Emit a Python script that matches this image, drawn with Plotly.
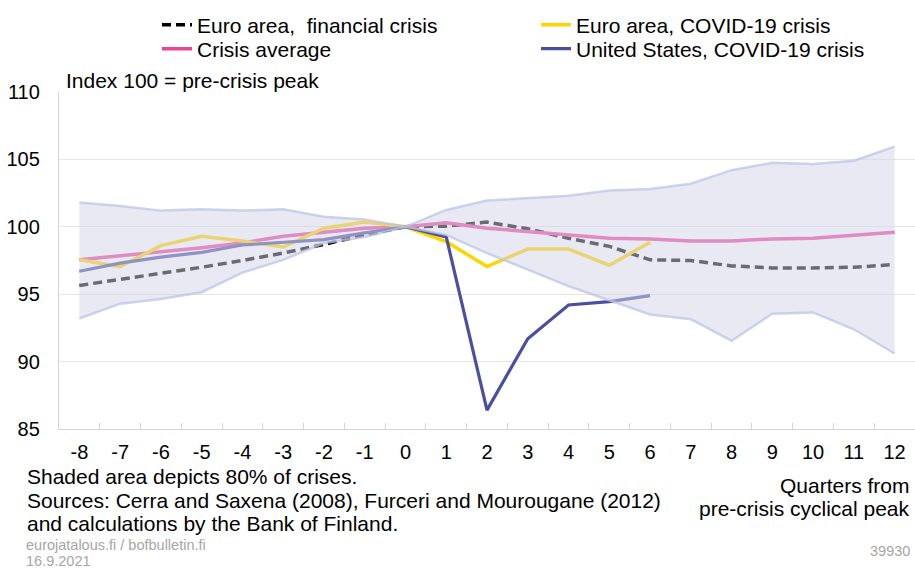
import plotly.graph_objects as go

# ---------------- data ----------------
quarters = list(range(-8, 13))
quarter_labels = [str(q) for q in quarters]
covid_quarters = quarter_labels[:15]  # -8 .. 6

euro_financial = [95.65, 96.1, 96.5, 97.0, 97.5, 98.05, 98.7, 99.4, 100.0, 100.05, 100.35,
                  99.85, 99.15, 98.55, 97.55, 97.5, 97.1, 96.95, 96.95, 97.0, 97.2]
crisis_average = [97.55, 97.85, 98.1, 98.45, 98.8, 99.3, 99.6, 99.9, 100.0, 100.3, 99.9,
                  99.65, 99.35, 99.15, 99.1, 98.95, 98.95, 99.1, 99.15, 99.4, 99.6]
euro_covid = [97.55, 97.05, 98.6, 99.3, 98.95, 98.5, 99.9, 100.35, 100.0, 98.9, 97.05,
              98.35, 98.35, 97.15, 98.85]
us_covid = [96.7, 97.3, 97.75, 98.1, 98.65, 98.85, 99.05, 99.55, 100.0, 99.25, 86.4,
            91.7, 94.2, 94.45, 94.9]
band_upper = [101.8, 101.55, 101.2, 101.3, 101.2, 101.3, 100.75, 100.55, 100.0, 101.25, 101.95,
              102.15, 102.3, 102.7, 102.8, 103.2, 104.2, 104.75, 104.65, 104.9, 105.95]
band_lower = [93.2, 94.3, 94.65, 95.15, 96.6, 97.55, 98.8, 99.25, 100.0, 99.4, 98.05,
              96.85, 95.6, 94.55, 93.5, 93.15, 91.55, 93.55, 93.65, 92.4, 90.6]

FONT = "Liberation Sans, Arial, sans-serif"
W, H = 915, 570
ML, MR, MT, MB = 59, 0, 92, 570 - 429
PW, PH = W - ML - MR, H - MT - MB


def px(x):
    return (x - ML) / PW


def py(y):
    return (H - MB - y) / PH


def cx(x):
    return x / W


def cy(y):
    return 1 - y / H


fig = go.Figure()

fig.add_trace(go.Scatter(x=quarter_labels, y=euro_financial, mode="lines",
                         name="Euro area,  financial crisis",
                         line=dict(color="#000000", width=3.5, dash="9px,5px"),
                         legend="legend"))
fig.add_trace(go.Scatter(x=quarter_labels, y=crisis_average, mode="lines",
                         name="Crisis average",
                         line=dict(color="#E8449A", width=3.5),
                         legend="legend2"))
fig.add_trace(go.Scatter(x=covid_quarters, y=euro_covid, mode="lines",
                         name="Euro area, COVID-19 crisis",
                         line=dict(color="#FFD500", width=3.5),
                         legend="legend3"))
fig.add_trace(go.Scatter(x=covid_quarters, y=us_covid, mode="lines",
                         name="United States, COVID-19 crisis",
                         line=dict(color="#4A509F", width=3.2),
                         legend="legend4"))

# shaded 80% band, drawn on top semi-transparently
fig.add_trace(go.Scatter(x=quarter_labels, y=band_lower, mode="lines",
                         line=dict(color="rgba(190,198,228,0.75)", width=2.5),
                         showlegend=False, hoverinfo="skip"))
fig.add_trace(go.Scatter(x=quarter_labels, y=band_upper, mode="lines",
                         line=dict(color="rgba(190,198,228,0.75)", width=2.5),
                         fill="tonexty", fillcolor="rgba(211,211,231,0.5)",
                         showlegend=False, hoverinfo="skip"))

leg_common = dict(xref="container", yref="container", xanchor="left", yanchor="middle",
                  bgcolor="rgba(0,0,0,0)", font=dict(family=FONT, size=21, color="#000000"),
                  itemwidth=30)
fig.update_layout(
    legend=dict(x=cx(157), y=cy(25), **leg_common),
    legend2=dict(x=cx(157), y=cy(49), **leg_common),
    legend3=dict(x=cx(536), y=cy(25), **leg_common),
    legend4=dict(x=cx(536), y=cy(49), **leg_common),
)

fig.update_xaxes(type="category", categoryorder="array", categoryarray=quarter_labels,
                 range=[-0.5, len(quarter_labels) - 0.5],
                 tickson="boundaries", ticks="inside", ticklen=6, tickcolor="#D4D4D4",
                 tickwidth=1.3, showline=True, linecolor="#D4D4D4", linewidth=1.3,
                 showgrid=False, zeroline=False, ticklabelstandoff=5, tickangle=0,
                 tickfont=dict(family=FONT, size=20, color="#000000"))
fig.update_yaxes(range=[85, 110], dtick=5, tick0=85, showgrid=True, gridcolor="#E6E6E6",
                 gridwidth=1, showline=True, linecolor="#D4D4D4", linewidth=1.3,
                 ticks="", zeroline=False, ticklabelstandoff=14,
                 tickfont=dict(family=FONT, size=20, color="#000000"))

notes_left = [
    ("Shaded area depicts 80% of crises.", 476),
    ("Sources: Cerra and Saxena (2008), Furceri and Mourougane (2012)", 500),
    ("and calculations by the Bank of Finland.", 523),
]
annotations = [dict(text="Index 100 = pre-crisis peak", x=px(64), y=py(80), xanchor="left",
                    yanchor="middle", font=dict(family=FONT, size=21, color="#000000"))]
for t, yy in notes_left:
    annotations.append(dict(text=t, x=px(25), y=py(yy), xanchor="left", yanchor="middle",
                            font=dict(family=FONT, size=21, color="#000000")))
annotations += [
    dict(text="Quarters from", x=px(912), y=py(485), xanchor="right", yanchor="middle",
         font=dict(family=FONT, size=21, color="#000000")),
    dict(text="pre-crisis cyclical peak", x=px(912), y=py(508), xanchor="right",
         yanchor="middle", font=dict(family=FONT, size=21, color="#000000")),
    dict(text="eurojatalous.fi / bofbulletin.fi", x=px(25), y=py(545), xanchor="left",
         yanchor="middle", font=dict(family=FONT, size=14.5, color="#A6A6A6"), borderpad=0),
    dict(text="16.9.2021", x=px(25), y=py(561), xanchor="left", yanchor="middle",
         font=dict(family=FONT, size=14.5, color="#A6A6A6"), borderpad=0),
    dict(text="39930", x=px(912), y=py(551), xanchor="right", yanchor="middle",
         font=dict(family=FONT, size=14.5, color="#A6A6A6")),
]
for a in annotations:
    a.update(xref="paper", yref="paper", showarrow=False)

fig.update_layout(
    width=W, height=H,
    margin=dict(l=ML, r=MR, t=MT, b=MB, pad=0, autoexpand=False),
    paper_bgcolor="#FFFFFF", plot_bgcolor="#FFFFFF",
    font=dict(family=FONT, color="#000000"),
    annotations=annotations,
    hovermode=False,
)

fig.write_html(
    "out.html",
    config={"displayModeBar": False},
    post_script="document.body.style.margin='0';document.body.style.overflow='hidden';",
)
